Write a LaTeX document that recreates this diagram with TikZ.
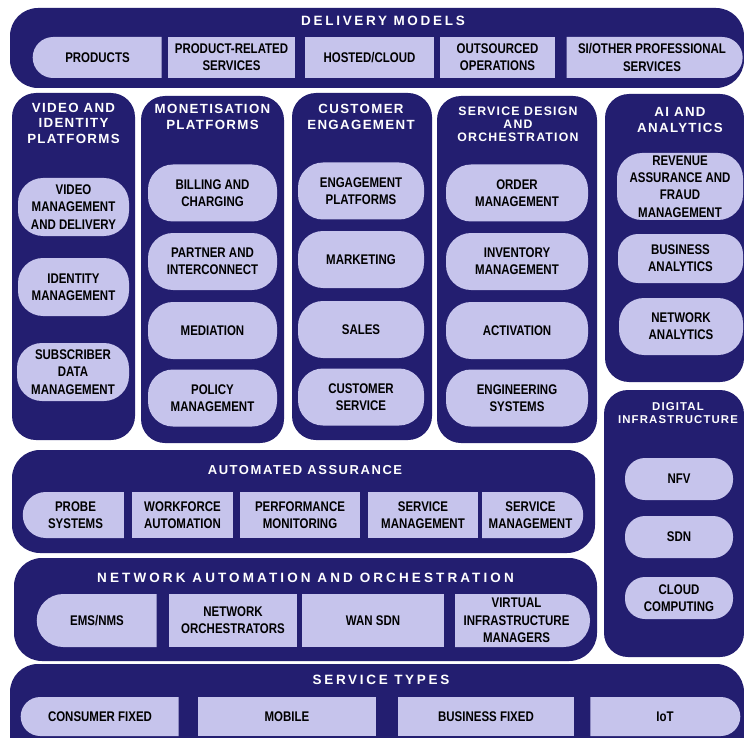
\documentclass[tikz,border=0pt]{standalone}
\usepackage{fontspec}
\usetikzlibrary{shapes.misc}
\setmainfont{Liberation Sans}
\newfontfamily\pillfam[FakeStretch=0.82]{Liberation Sans}
\newfontfamily\colfam[LetterSpace=10]{Liberation Sans}
\newfontfamily\midfam[LetterSpace=12]{Liberation Sans}
\newfontfamily\bandfam[LetterSpace=20]{Liberation Sans}
\newfontfamily\widefam[LetterSpace=23]{Liberation Sans}
\definecolor{navy}{RGB}{35,30,112}
\definecolor{lav}{RGB}{198,196,236}
\tikzset{
  wh/.style 2 args={minimum width=#1pt, minimum height=#2pt},
  panel/.style={fill=navy, draw=none, rounded corners=24pt, inner sep=0pt},
  bandpanel/.style={fill=navy, draw=none, rounded corners=28pt, inner sep=0pt},
  ptext/.style={inner sep=0pt, align=center, text=black, font=\pillfam\bfseries\fontsize{14}{17.3}\selectfont},
  pill/.style={ptext, fill=lav, rounded corners=25pt},
  pillsm/.style={ptext, fill=lav, rounded corners=20pt},
  sq/.style={ptext, fill=lav, rectangle},
  lcap/.style={ptext, fill=lav, rounded rectangle, rounded rectangle east arc=none},
  rcap/.style={ptext, fill=lav, rounded rectangle, rounded rectangle west arc=none},
  coltitle/.style={inner sep=0pt, align=center, text=white, font=\colfam\bfseries\fontsize{13.3}{15.5}\selectfont},
  coltitlesm/.style={inner sep=0pt, align=center, text=white, font=\colfam\bfseries\fontsize{12.3}{13}\selectfont},
  coltitlexs/.style={inner sep=0pt, align=center, text=white, font=\colfam\bfseries\fontsize{11.4}{13}\selectfont},
  midtitle/.style={inner sep=0pt, align=center, text=white, font=\midfam\bfseries\fontsize{13}{16}\selectfont},
  bandtitle/.style={inner sep=0pt, align=center, text=white, font=\bandfam\bfseries\fontsize{13.5}{16}\selectfont},
  widetitle/.style={inner sep=0pt, align=center, text=white, font=\widefam\bfseries\fontsize{13.5}{16}\selectfont},
}
\begin{document}
\begin{tikzpicture}[x=1pt,y=-1pt]
\useasboundingbox (0,0) rectangle (744,738);
\clip (0,0) rectangle (744,738);
\fill[white] (0,0) rectangle (744,738);

% Delivery models
\node[bandpanel, wh={734}{80}] (dm) at (377,48) {};
\node[bandtitle] (dmt) at (383,21) {DELIVERY MODELS};
\node[lcap, wh={129}{41}] (d1) at (97.5,57.5) {PRODUCTS};
\node[sq, wh={127}{41}] (d2) at (231.5,57.5) {PRODUCT-RELATED\\SERVICES};
\node[sq, wh={129}{41}] (d3) at (369.5,57.5) {HOSTED/CLOUD};
\node[sq, wh={115}{41}] (d4) at (497.5,57.5) {OUTSOURCED\\OPERATIONS};
\node[rcap, wh={176}{41}] (d5) at (652,57.5) {SI/OTHER PROFESSIONAL\\SERVICES};

% Column 1
\node[panel, wh={123}{347}] (c1) at (73.5,266.5) {};
\node[coltitle] (c1t) at (73.5,123) {VIDEO AND\\IDENTITY\\PLATFORMS};
\node[pill, wh={111}{58}] (c1a) at (73.5,207) {VIDEO\\MANAGEMENT\\AND DELIVERY};
\node[pill, wh={111}{58}] (c1b) at (73.5,287) {IDENTITY\\MANAGEMENT};
\node[pill, wh={112}{58}] (c1c) at (73,372) {SUBSCRIBER\\DATA\\MANAGEMENT};

% Column 2
\node[panel, wh={143}{347}] (c2) at (212.5,269.5) {};
\node[coltitle] (c2t) at (212.5,117) {MONETISATION\\PLATFORMS};
\node[pill, wh={129}{57}] (c2a) at (212.5,193) {BILLING AND\\CHARGING};
\node[pill, wh={129}{57}] (c2b) at (212.5,261.5) {PARTNER AND\\INTERCONNECT};
\node[pill, wh={129}{57}] (c2c) at (212.5,330.5) {MEDIATION};
\node[pill, wh={129}{57}] (c2d) at (212.5,398) {POLICY\\MANAGEMENT};

% Column 3
\node[panel, wh={140}{347}] (c3) at (362,266.5) {};
\node[coltitle] (c3t) at (361,117) {CUSTOMER\\ENGAGEMENT};
\node[pill, wh={126}{57}] (c3a) at (361,191) {ENGAGEMENT\\PLATFORMS};
\node[pill, wh={126}{57}] (c3b) at (361,259.5) {MARKETING};
\node[pill, wh={126}{57}] (c3c) at (361,329.5) {SALES};
\node[pill, wh={126}{57}] (c3d) at (361,397) {CUSTOMER\\SERVICE};

% Column 4
\node[panel, wh={160}{347}] (c4) at (517,269.5) {};
\node[coltitlesm] (c4t) at (518,124) {SERVICE DESIGN\\AND\\ORCHESTRATION};
\node[pill, wh={142}{57}] (c4a) at (517,193) {ORDER\\MANAGEMENT};
\node[pill, wh={142}{57}] (c4b) at (517,261.5) {INVENTORY\\MANAGEMENT};
\node[pill, wh={142}{57}] (c4c) at (517,330.5) {ACTIVATION};
\node[pill, wh={142}{57}] (c4d) at (517,398) {ENGINEERING\\SYSTEMS};

% Column 5: AI and analytics
\node[panel, wh={139}{288}] (c5) at (674.5,238) {};
\node[coltitle] (c5t) at (680,120) {AI AND\\ANALYTICS};
\node[pill, wh={126}{67}] (c5a) at (680,186.5) {REVENUE\\ASSURANCE AND\\FRAUD\\MANAGEMENT};
\node[pillsm, wh={125}{49}] (c5b) at (680.5,258.5) {BUSINESS\\ANALYTICS};
\node[pill, wh={124}{57}] (c5c) at (681,326.5) {NETWORK\\ANALYTICS};

% Column 6: Digital infrastructure
\node[panel, wh={140}{267}] (c6) at (674,523.5) {};
\node[coltitlexs] (c6t) at (678,413.5) {DIGITAL\\INFRASTRUCTURE};
\node[pillsm, wh={108}{42}] (c6a) at (679,479) {NFV};
\node[pillsm, wh={108}{42}] (c6b) at (679,537) {SDN};
\node[pillsm, wh={108}{42}] (c6c) at (679,598) {CLOUD\\COMPUTING};

% Automated assurance
\node[bandpanel, wh={583}{103}] (aa) at (303.5,501.5) {};
\node[midtitle] (aat) at (305,470) {AUTOMATED ASSURANCE};
\node[lcap, wh={101}{46}] (a1) at (75.5,515) {PROBE\\SYSTEMS};
\node[sq, wh={101}{46}] (a2) at (182.5,515) {WORKFORCE\\AUTOMATION};
\node[sq, wh={120}{46}] (a3) at (300,515) {PERFORMANCE\\MONITORING};
\node[sq, wh={110}{46}] (a4) at (423,515) {SERVICE\\MANAGEMENT};
\node[rcap, wh={101}{46}] (a5) at (530.5,515) {SERVICE\\MANAGEMENT};

% Network automation and orchestration
\node[bandpanel, wh={583}{103}] (na) at (305.5,609.5) {};
\node[widetitle] (nat) at (305.5,578) {NETWORK AUTOMATION AND ORCHESTRATION};
\node[lcap, wh={120}{53}] (n1) at (97,620.5) {EMS/NMS};
\node[sq, wh={128}{53}] (n2) at (233,620.5) {NETWORK\\ORCHESTRATORS};
\node[sq, wh={142}{53}] (n3) at (373,620.5) {WAN SDN};
\node[rcap, wh={135}{53}] (n4) at (516.5,620.5) {VIRTUAL\\INFRASTRUCTURE\\MANAGERS};

% Service types
\node[bandpanel, wh={734}{100}] (st) at (377,714) {};
\node[bandtitle] (stt) at (381,680) {SERVICE TYPES};
\node[lcap, wh={158}{39}] (s1) at (100,716.5) {CONSUMER FIXED};
\node[sq, wh={178}{39}] (s2) at (287,716.5) {MOBILE};
\node[sq, wh={176}{39}] (s3) at (486,716.5) {BUSINESS FIXED};
\node[rcap, wh={150}{39}] (s4) at (665,716.5) {IoT};
\end{tikzpicture}
\end{document}
